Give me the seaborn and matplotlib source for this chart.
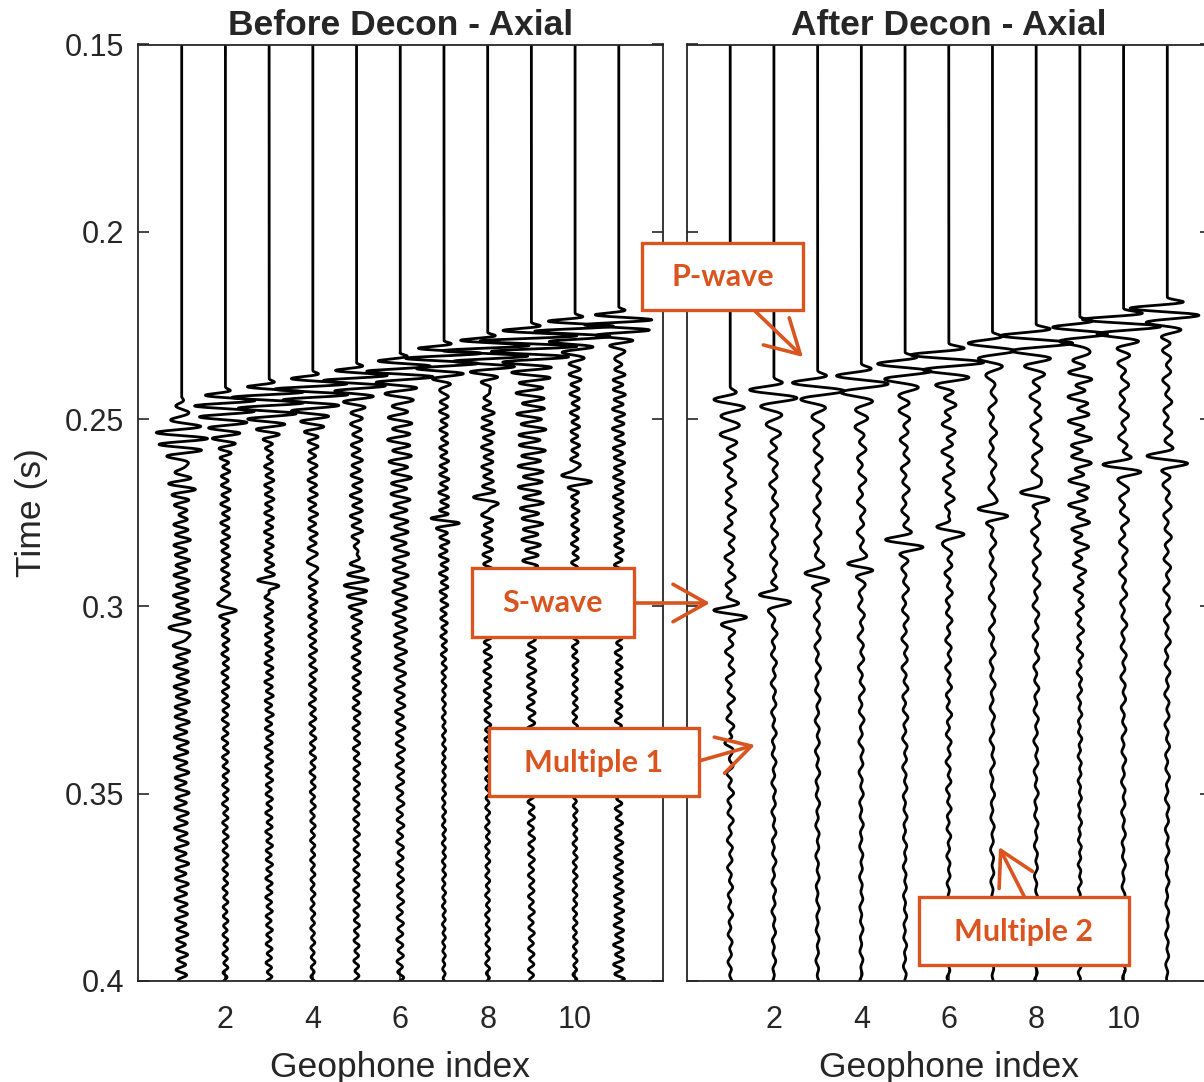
import numpy as np
import pandas as pd
import matplotlib
matplotlib.use("Agg")
import matplotlib.pyplot as plt
import seaborn as sns
from matplotlib.patches import Rectangle, FancyArrowPatch

# ---------------- data ----------------
traces = [1, 2, 3, 4, 5, 6, 7, 8, 9, 10, 11]
time_ticks = [0.15, 0.2, 0.25, 0.3, 0.35, 0.4]
time_tick_labels = ["0.15", "0.2", "0.25", "0.3", "0.35", "0.4"]
x_ticks = [2, 4, 6, 8, 10]
panel_titles = ["Before Decon - Axial", "After Decon - Axial"]

# envelope node times (s) for the coda ringing
ring_nodes = [0.25, 0.275, 0.30, 0.325, 0.35, 0.375, 0.40]

# Before decon
before_onset = [0.2441, 0.2414, 0.2391, 0.2369, 0.2348, 0.2321, 0.2289, 0.2267, 0.2241, 0.2217, 0.2200]
before_burst_amp = [0.46, 0.80, 0.90, 0.90, 0.80, 0.85, 0.85, 0.95, 0.95, 0.95, 0.85]
before_burst_delay = [0.0095, 0.0050, 0.0050, 0.0050, 0.0045, 0.0050, 0.0045, 0.0050, 0.0050, 0.0045, 0.0045]
before_burst_period = [0.0034, 0.0029, 0.0029, 0.0029, 0.0028, 0.0029, 0.0028, 0.0029, 0.0029, 0.0028, 0.0028]
before_ring = [
    [0.20, 0.19, 0.19, 0.18, 0.17, 0.16, 0.13],
    [0.13, 0.11, 0.09, 0.08, 0.07, 0.06, 0.06],
    [0.12, 0.11, 0.10, 0.10, 0.08, 0.08, 0.07],
    [0.12, 0.11, 0.10, 0.08, 0.06, 0.05, 0.05],
    [0.12, 0.15, 0.12, 0.09, 0.07, 0.07, 0.06],
    [0.32, 0.22, 0.17, 0.12, 0.09, 0.08, 0.08],
    [0.09, 0.13, 0.09, 0.04, 0.04, 0.04, 0.03],
    [0.15, 0.13, 0.11, 0.08, 0.05, 0.05, 0.05],
    [0.35, 0.28, 0.12, 0.10, 0.08, 0.07, 0.07],
    [0.11, 0.09, 0.08, 0.06, 0.05, 0.05, 0.05],
    [0.15, 0.12, 0.09, 0.08, 0.08, 0.11, 0.13],
]
before_ring_period = [0.0027, 0.0025, 0.0025, 0.0026, 0.0027, 0.0029, 0.0024, 0.0026, 0.0028, 0.0025, 0.0026]
# events: trace, time, amplitude, period, duration scale
before_ev_trace = [1, 2, 3, 4, 5, 7, 8, 10]
before_ev_time = [0.3070, 0.3000, 0.2940, 0.2890, 0.2920, 0.2770, 0.2720, 0.2657]
before_ev_amp = [0.38, 0.28, 0.27, 0.25, 0.22, 0.30, 0.33, 0.40]
before_ev_period = [0.0040, 0.0040, 0.0035, 0.0035, 0.0030, 0.0030, 0.0040, 0.0040]
before_ev_width = [0.6, 0.6, 0.6, 0.6, 2.5, 0.6, 0.6, 0.6]

# After decon
after_onset = [0.2414, 0.2388, 0.2369, 0.2350, 0.2320, 0.2296, 0.2265, 0.2245, 0.2225, 0.2204, 0.2174]
after_burst_amp = [0.42, 0.60, 0.66, 0.68, 0.70, 0.85, 0.55, 0.80, 0.70, 0.95, 0.85]
after_burst_delay = [0.0050, 0.0045, 0.0045, 0.0045, 0.0040, 0.0040, 0.0040, 0.0040, 0.0040, 0.0035, 0.0035]
after_burst_period = [0.0045, 0.0045, 0.0045, 0.0045, 0.0042, 0.0042, 0.0042, 0.0042, 0.0040, 0.0040, 0.0040]
after_ring = [
    [0.15, 0.13, 0.12, 0.10, 0.08, 0.06, 0.05],
    [0.13, 0.09, 0.08, 0.06, 0.05, 0.05, 0.04],
    [0.12, 0.09, 0.08, 0.06, 0.05, 0.04, 0.04],
    [0.12, 0.10, 0.08, 0.07, 0.05, 0.04, 0.04],
    [0.12, 0.09, 0.08, 0.07, 0.05, 0.04, 0.04],
    [0.18, 0.12, 0.08, 0.07, 0.06, 0.04, 0.04],
    [0.10, 0.08, 0.08, 0.06, 0.05, 0.04, 0.04],
    [0.14, 0.12, 0.08, 0.06, 0.05, 0.04, 0.04],
    [0.28, 0.26, 0.10, 0.05, 0.04, 0.04, 0.04],
    [0.12, 0.12, 0.08, 0.06, 0.05, 0.04, 0.04],
    [0.11, 0.10, 0.08, 0.06, 0.05, 0.04, 0.04],
]
after_ring_period = [0.0036, 0.0038, 0.0040, 0.0040, 0.0038, 0.0036, 0.0042, 0.0040, 0.0032, 0.0040, 0.0040]
after_ev_trace = [1, 2, 3, 4, 5, 6, 7, 8, 10, 11, 1]
after_ev_time = [0.3019, 0.2978, 0.2922, 0.2895, 0.2832, 0.2797, 0.2750, 0.2706, 0.2630, 0.2609, 0.3370]
after_ev_amp = [0.40, 0.40, 0.30, 0.28, 0.42, 0.44, 0.44, 0.47, 0.50, 0.45, 0.12]
after_ev_period = [0.0045, 0.0045, 0.0045, 0.0040, 0.0045, 0.0045, 0.0045, 0.0045, 0.0045, 0.0045, 0.0040]
after_ev_width = [0.6, 0.6, 0.6, 0.6, 0.6, 0.6, 0.6, 0.6, 0.6, 0.6, 0.6]

# annotations (label, box in image pixels x0, y0, x1, y1, arrow start, arrow tip)
ann_labels = ["P-wave", "S-wave", "Multiple 1", "Multiple 2"]
ann_boxes = [(642, 243, 803, 310), (472, 568, 634, 637), (489, 728, 699, 796), (919, 897, 1129, 965)]
ann_arrow_from = [(755, 311), (634, 603), (699, 761), (1024, 896)]
ann_arrow_to = [(803, 357), (710, 603), (755, 745), (999, 847)]

# ---------------- build traces ----------------
t = np.arange(0.15, 0.40005, 0.0001)


def build(onset, bamp, bdelay, bper, ring, rper, ev_tr, ev_t, ev_a, ev_p, ev_w, mix):
    rows = []
    for k, tr in enumerate(traces):
        d = t - onset[k]
        on = d > 0
        x = np.clip(d / bdelay[k], 0, None)
        s = bamp[k] * (x * np.exp(1 - x)) ** 2 * np.sin(2 * np.pi * d / bper[k])
        env = np.interp(t, ring_nodes, ring[k]) * (1 - np.exp(-np.clip(d, 0, None) / 0.004))
        carrier = (1 - mix) * np.sin(2 * np.pi * d / rper[k] + 0.7 * tr) \
            + mix * np.sin(2 * np.pi * d / (rper[k] * 2.3) + 1.3 * tr)
        s = s + env * carrier
        for j, etr in enumerate(ev_tr):
            if etr == tr:
                w = ev_w[j] * ev_p[j]
                s = s + ev_a[j] * np.exp(-((t - ev_t[j]) / w) ** 2) * np.sin(2 * np.pi * (t - ev_t[j]) / ev_p[j])
        s = np.where(on, s, 0.0)
        rows.append(pd.DataFrame({"trace": tr, "t": t, "x": tr + s}))
    return pd.concat(rows, ignore_index=True)


df_before = build(before_onset, before_burst_amp, before_burst_delay, before_burst_period,
                  before_ring, before_ring_period, before_ev_trace, before_ev_time,
                  before_ev_amp, before_ev_period, before_ev_width, 0.2)
df_after = build(after_onset, after_burst_amp, after_burst_delay, after_burst_period,
                 after_ring, after_ring_period, after_ev_trace, after_ev_time,
                 after_ev_amp, after_ev_period, after_ev_width, 0.4)

# ---------------- figure ----------------
sns.set_style("ticks")
plt.rcParams["font.family"] = ["Liberation Sans", "DejaVu Sans"]

W, H = 1204, 1082
fig = plt.figure(figsize=(W / 100, H / 100), dpi=100)

def fx(px):
    return px / W

def fy(py):
    return 1 - py / H

ax_bottom = fy(981)
ax_h = fy(44.5) - ax_bottom
ax_w = (662.5 - 138) / W
ax1 = fig.add_axes([fx(138), ax_bottom, ax_w, ax_h])
ax2 = fig.add_axes([fx(686.5), ax_bottom, ax_w, ax_h])

spine_col = "#262626"
for ax, df, title in [(ax1, df_before, panel_titles[0]), (ax2, df_after, panel_titles[1])]:
    sns.lineplot(data=df, x="x", y="t", units="trace", estimator=None, sort=False,
                 color="black", lw=2.0, ax=ax, legend=False)
    ax.set_xlim(0, 12)
    ax.set_ylim(0.4, 0.15)
    ax.set_xticks(x_ticks)
    ax.set_xticklabels([str(v) for v in x_ticks])
    ax.set_yticks(time_ticks)
    ax.tick_params(direction="in", length=8, width=1.2, top=True, right=True,
                   labelsize=22, colors=spine_col, pad=10)
    ax.tick_params(axis="x", pad=17)
    for sp in ax.spines.values():
        sp.set_linewidth(1.3)
        sp.set_color(spine_col)
    ax.set_xlabel("Geophone index", fontsize=25.5, color=spine_col, labelpad=12)
    ax.set_title(title, fontsize=25.5, fontweight="bold", pad=7)
    ax.grid(False)

ax1.set_yticklabels(time_tick_labels)
ax1.set_ylabel("Time (s)", fontsize=25.5, color=spine_col, labelpad=12)
ax2.set_yticklabels([])
ax2.set_ylabel("")

orange = "#D9541E"
for lab, (x0, y0, x1, y1), a0, a1 in zip(ann_labels, ann_boxes, ann_arrow_from, ann_arrow_to):
    fig.add_artist(FancyArrowPatch((fx(a0[0]), fy(a0[1])), (fx(a1[0]), fy(a1[1])),
                                   transform=fig.transFigure,
                                   arrowstyle="->,head_length=0.8,head_width=0.45",
                                   mutation_scale=30, lw=2.6, color=orange,
                                   shrinkA=0, shrinkB=0, zorder=5))
    fig.add_artist(Rectangle((fx(x0), fy(y1)), fx(x1) - fx(x0), fy(y0) - fy(y1),
                             transform=fig.transFigure, facecolor="white",
                             edgecolor=orange, lw=2.4, zorder=6))
    fig.text(fx((x0 + x1) / 2), fy((y0 + y1) / 2 + 1), lab, ha="center", va="center",
             fontsize=22, fontweight="bold", color=orange, family=["Lato", "DejaVu Sans"],
             zorder=7)

fig.savefig("out.png", dpi=100)
